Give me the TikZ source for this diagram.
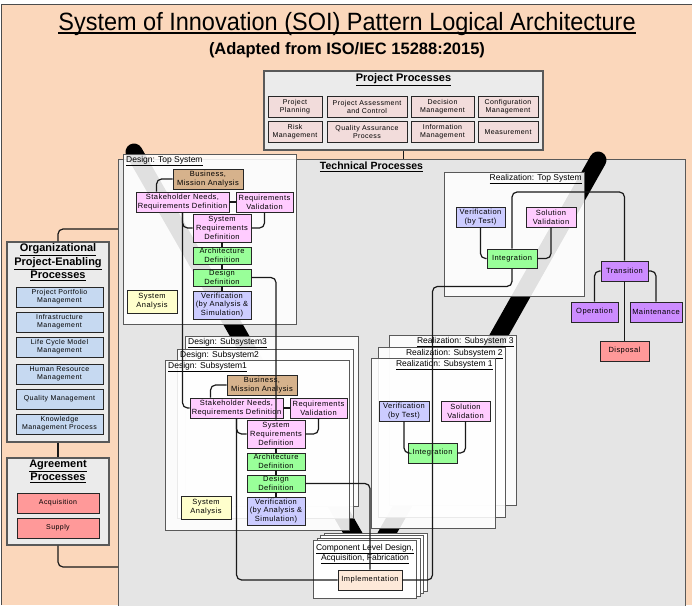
\documentclass[tikz,border=0pt]{standalone}
\usepackage{fontspec}
\setmainfont{Liberation Sans}
\newfontfamily\narrowsans[FakeStretch=0.94]{Liberation Sans}
\newfontfamily\boxfont[LetterSpace=6]{Liberation Sans}
\usepackage{tikz}
\usetikzlibrary{positioning}
\definecolor{peach}{RGB}{251,215,187}
\definecolor{groupgray}{RGB}{235,235,235}
\definecolor{techgray}{RGB}{229,229,229}
\definecolor{pinkpale}{RGB}{242,220,219}
\definecolor{bluepale}{RGB}{198,217,241}
\definecolor{redpale}{RGB}{255,153,153}
\definecolor{bizcol}{RGB}{214,178,140}
\definecolor{needpink}{RGB}{255,204,255}
\definecolor{archgreen}{RGB}{153,255,153}
\definecolor{verblue}{RGB}{204,204,255}
\definecolor{anayellow}{RGB}{255,255,204}
\definecolor{transpurple}{RGB}{204,140,255}
\definecolor{implpeach}{RGB}{253,233,217}

\tikzset{
  proc/.style={draw=black!85, line width=0.9pt, inner sep=0pt, align=center,
    font=\boxfont\fontsize{7.5}{8.8}\selectfont},
  mini/.style={proc, font=\boxfont\fontsize{7}{8}\selectfont},
  bizbox/.style={proc, fill=bizcol},
  needbox/.style={proc, fill=needpink},
  archbox/.style={proc, fill=archgreen},
  verbox/.style={proc, fill=verblue},
  anabox/.style={proc, fill=anayellow},
  transbox/.style={proc, fill=transpurple},
  redbox/.style={proc, fill=redpale},
  projbox/.style={mini, fill=pinkpale, minimum width=#1, minimum height=21},
  orgbox/.style={mini, fill=bluepale, minimum width=87, minimum height=20},
  procgroup/.style={draw=black!65, line width=1.1pt, fill=groupgray, inner sep=0pt},
  grouptitle/.style={font=\bfseries\fontsize{11}{13.5}\selectfont, align=center, inner sep=0pt},
  stage/.style={draw=black!65, line width=0.9pt, fill=white, fill opacity=0.88,
    inner sep=0pt, anchor=north west},
  stagelabel/.style={font=\fontsize{8.5}{10}\selectfont, inner sep=0pt, align=center},
  wire/.style={black!90, line width=1.2pt, rounded corners=5pt},
  band/.style={line width=17pt, line cap=round},
}

\begin{document}
\begin{tikzpicture}[x=1pt, y=-1pt]
  \useasboundingbox (0,0) rectangle (692,605);
  \fill[white] (0,0) rectangle (692,605);
  \fill[peach] (1,4) rectangle (692,605);
  \draw[black!70, line width=1pt] (1,605) -- (1,4) -- (692,4);

  % headings
  \node[inner sep=0pt, anchor=base, font=\narrowsans\fontsize{25}{28}\selectfont] (title) at (347,30)
    {System of Innovation (SOI) Pattern Logical Architecture};
  \draw[line width=1.5pt] ([yshift=-3pt]title.base west) -- ([yshift=-3pt]title.base east);
  \node[inner sep=0pt, anchor=base, font=\bfseries\fontsize{16.5}{18}\selectfont] (subtitle) at (347,54)
    {(Adapted from ISO/IEC 15288:2015)};

  % project processes
  \node[procgroup, minimum width=279, minimum height=79] (pp) at (403.5,110.5) {};
  \node[grouptitle, below=3pt of pp.north] (pptitle) {\underline{Project Processes}};
  \foreach \nm/\px/\py/\w/\txt in {plan/295/106.5/54/{Project\\Planning},
      assess/367/106.5/80/{Project Assessment\\and Control},
      decide/442.5/106.5/63/{Decision\\Management},
      config/508/106.5/60/{Configuration\\Management},
      risk/295/132/54/{Risk\\Management},
      qa/367/132/80/{Quality Assurance\\Process},
      info/442.5/132/63/{Information\\Management},
      meas/508/132/60/{Measurement}}{
    \node[projbox=\w] (\nm) at (\px,\py) {\txt};
  }

  % organizational project-enabling processes
  \node[procgroup, minimum width=102, minimum height=200] (org) at (58,342) {};
  \node[grouptitle, below=2pt of org.north] (orgtitle)
    {\underline{Organizational}\\\underline{Project-Enabling}\\\underline{Processes}};
  \foreach \nm/\py/\txt in {ppm/297/{Project Portfolio\\Management},
      im/322/{Infrastructure\\Management},
      lcm/347/{Life Cycle Model\\Management},
      hrm/374/{Human Resource\\Management},
      qm/399/{Quality Management},
      kmp/424/{Knowledge\\Management Process}}{
    \node[orgbox] (\nm) at (59.5,\py) {\txt};
  }

  % agreement processes
  \node[procgroup, minimum width=102, minimum height=87] (agr) at (58,501.5) {};
  \node[grouptitle, below=2pt of agr.north] (agrtitle) {\underline{Agreement}\\\underline{Processes}};
  \node[mini, fill=redpale, minimum width=82, minimum height=20] (acq) at (58,503) {Acquisition};
  \node[mini, fill=redpale, minimum width=82, minimum height=20] (sup) at (58,528) {Supply};

  % technical processes
  \node[procgroup, fill=techgray, minimum width=567, minimum height=460, anchor=north west] (tech) at (118,159) {};
  \node[grouptitle, font=\bfseries\fontsize{10.5}{12}\selectfont, anchor=north] (techtitle) at (371.5,162)
    {\underline{Technical Processes}};

  % the V
  \draw[band] (134,152) -- (355,537);
  \draw[band] (598,160) -- (385,537);

  % design and realization stages
  \node[stage, minimum width=173, minimum height=170] (dtop) at (123,154) {};
  \node[stagelabel, below right=2pt and 3pt of dtop.north west] (dtoplabel) {\underline{Design: Top System}};
  \node[stage, minimum width=173, minimum height=170] (dsub3) at (185,336) {};
  \node[stagelabel, below right=2pt and 3pt of dsub3.north west] (dsub3label) {\underline{Design: Subsystem3}};
  \node[stage, minimum width=176, minimum height=169] (dsub2) at (177,349) {};
  \node[stagelabel, below right=2pt and 3pt of dsub2.north west] (dsub2label) {\underline{Design: Subsystem2}};
  \node[stage, minimum width=184, minimum height=170] (dsub1) at (165,360) {};
  \node[stagelabel, below right=2pt and 3pt of dsub1.north west] (dsub1label) {\underline{Design: Subsystem1}};

  \node[stage, minimum width=140, minimum height=124] (rtop) at (444,172) {};
  \node[stagelabel, below left=2pt and 3pt of rtop.north east] (rtoplabel) {\underline{Realization: Top System}};
  \node[stage, minimum width=127, minimum height=170] (rsub3) at (389,335) {};
  \node[stagelabel, below left=2pt and 3pt of rsub3.north east] (rsub3label) {\underline{Realization: Subsystem 3}};
  \node[stage, minimum width=127, minimum height=170] (rsub2) at (378,347) {};
  \node[stagelabel, below left=2pt and 3pt of rsub2.north east] (rsub2label) {\underline{Realization: Subsystem 2}};
  \node[stage, minimum width=124, minimum height=170] (rsub1) at (371,358) {};
  \node[stagelabel, below left=2pt and 3pt of rsub1.north east] (rsub1label) {\underline{Realization: Subsystem 1}};

  % component level
  \foreach \k in {3,2,1,0}{
    \node[stage, fill opacity=1, minimum width=103, minimum height=58] (comp\k) at ({313+3.5*\k},{540-2.5*\k}) {};
  }
  \node[stagelabel, below=4pt of comp0.north] (complabel)
    {\underline{Component Level Design,}\\\underline{Acquisition, Fabrication}};
  \node[proc, fill=implpeach, minimum width=64, minimum height=20] (impl) at (370,580) {Implementation};

  % design processes, top system and subsystem 1
  \foreach \sys/\dx/\dy in {1/0/0, 2/54/206}{
    \begin{scope}[shift={(\dx,\dy)}]
      \node[bizbox, minimum width=70, minimum height=20] (bm\sys) at (208,179) {Business,\\Mission Analysis};
      \node[needbox, minimum width=93, minimum height=20] (sn\sys) at (182.5,202) {Stakeholder Needs,\\Requirements Definition};
      \node[needbox, minimum width=57, minimum height=20] (rv\sys) at (264.5,202) {Requirements\\Validation};
      \node[needbox, minimum width=58, minimum height=28] (sr\sys) at (222,228) {System\\Requirements\\Definition};
      \node[archbox, minimum width=58, minimum height=17] (ad\sys) at (222,255.5) {Architecture\\Definition};
      \node[archbox, minimum width=58, minimum height=17] (dd\sys) at (222,277.5) {Design\\Definition};
      \node[verbox, minimum width=58, minimum height=28] (vf\sys) at (222,305) {Verification\\(by Analysis \&\\Simulation)};
      \node[anabox, minimum width=50, minimum height=23] (sa\sys) at (152,301.5) {System\\Analysis};
    \end{scope}
    \draw[wire] (bm\sys.west) -| ([xshift=21pt]sn\sys.north west);
    \draw[wire] (sn\sys.east) -- (rv\sys.west);
    \draw[wire] (rv\sys.south) |- (sr\sys.east);
    \draw[wire] ([xshift=47pt]sn\sys.south west) |- (sr\sys.west);
    \draw[wire] (sr\sys) -- (ad\sys) -- (dd\sys) -- (vf\sys);
  }

  % realization processes
  \node[verbox, minimum width=49, minimum height=20] (vt1) at (480.5,217) {Verification\\(by Test)};
  \node[needbox, minimum width=50, minimum height=20] (sv1) at (551,217) {Solution\\Validation};
  \node[archbox, minimum width=50, minimum height=19] (in1) at (512,258.5) {Integration};
  \node[verbox, minimum width=50, minimum height=20] (vt2) at (404,411) {Verification\\(by Test)};
  \node[needbox, minimum width=49, minimum height=20] (sv2) at (465.5,411) {Solution\\Validation};
  \node[archbox, minimum width=49, minimum height=20] (in2) at (432.5,453) {Integration};

  % transition and after
  \node[transbox, minimum width=47, minimum height=20] (tr) at (624.5,271) {Transition};
  \node[transbox, minimum width=47, minimum height=20] (op) at (594.5,312) {Operation};
  \node[transbox, minimum width=52, minimum height=20] (mt) at (656,312) {Maintenance};
  \node[redbox, minimum width=49, minimum height=20] (dp) at (624.5,351) {Disposal};

  \coordinate (hub) at (560,192);
  \coordinate (orgin) at (118,229);
  \coordinate (agin) at (118,567);

  % connectors
  \draw[wire] (pp.south) -- (pp.south |- tech.north);
  \draw[wire] (org.north) |- (orgin);
  \draw[wire] (org.south) -- (agr.north);
  \draw[wire] (agr.south) |- (agin);
  \draw[wire] ([xshift=47pt]sn1.south west) |- (sn2.west);
  \draw[wire] (dd1.east) -| (sr2.north);
  \draw[wire] ([xshift=47pt]sn2.south west) |- (impl.west);
  \draw[wire] (dd2.east) -| (impl.north);
  \foreach \sys in {1,2}{
    \draw[wire] (vt\sys.south) |- (in\sys.west);
    \draw[wire] (sv\sys.south) |- (in\sys.east);
  }
  \draw[wire] (in1.north) |- (hub) -| (tr.north);
  \draw[wire] (in1.south) -- ++(0,18) -| (in2.north) -- (in2.south) |- (impl.east);
  \draw[wire] (tr.west) -| (op.north);
  \draw[wire] (tr.east) -| (mt.north);
  \draw[wire] (tr.south) -- (dp.north);
\end{tikzpicture}
\end{document}
